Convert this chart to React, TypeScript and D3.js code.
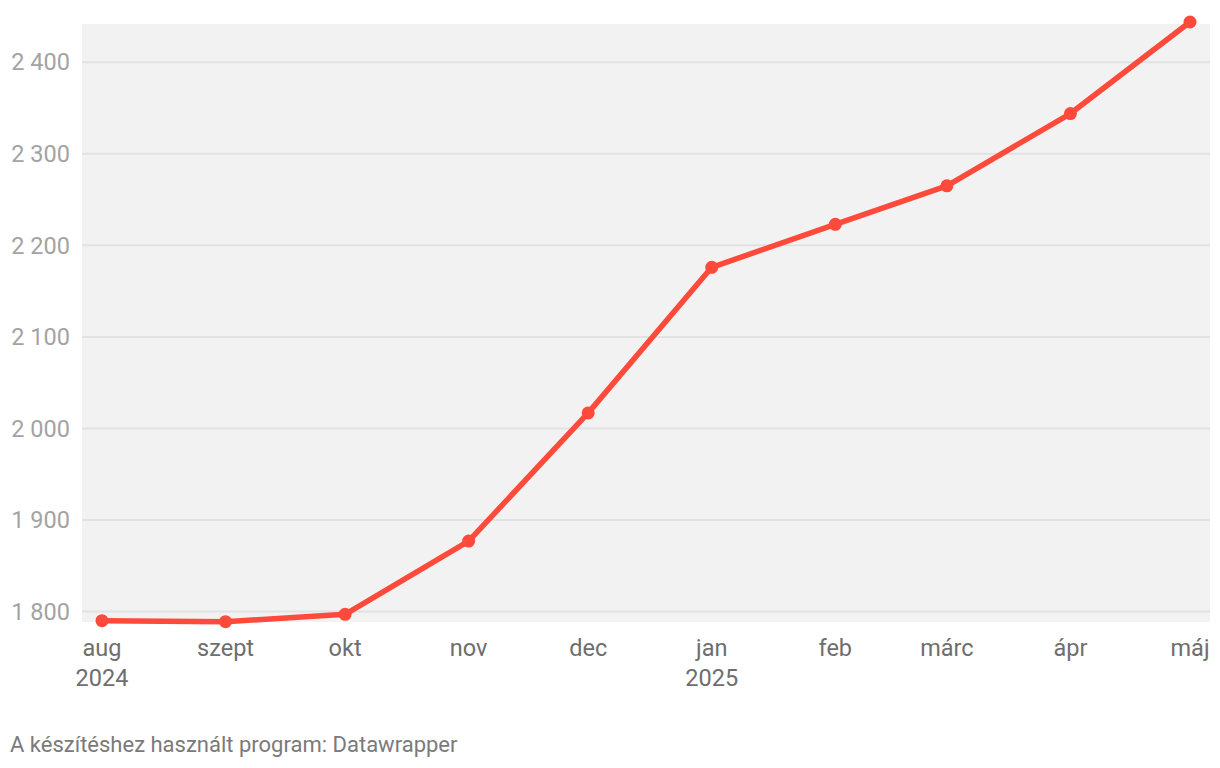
import { useEffect, useRef } from 'react';
import * as d3 from 'd3';

const months = ['2024-08-01', '2024-09-01', '2024-10-01', '2024-11-01', '2024-12-01', '2025-01-01', '2025-02-01', '2025-03-01', '2025-04-01', '2025-05-01'];
const monthLabels = ['aug', 'szept', 'okt', 'nov', 'dec', 'jan', 'feb', 'márc', 'ápr', 'máj'];
const yearLabels = ['2024', '', '', '', '', '2025', '', '', '', ''];
const values = [1790, 1789, 1797, 1877, 2017, 2176, 2223, 2265, 2344, 2444];
const yTicks = [1800, 1900, 2000, 2100, 2200, 2300, 2400];

const W = 1220;
const H = 768;
const FONT = 'Roboto, "Noto Sans", sans-serif';

export default function App() {
  const svgRef = useRef<SVGSVGElement>(null);

  useEffect(() => {
    if (!svgRef.current) return;
    const svg = d3.select(svgRef.current);
    svg.selectAll('*').remove();

    const parse = d3.timeParse('%Y-%m-%d');
    const dates = months.map(m => parse(m) as Date);
    const data = dates.map((d, i) => ({ date: d, value: values[i] }));

    const plot = { left: 82, right: 1210, top: 24, bottom: 622 };

    const x = d3.scaleTime()
      .domain([dates[0], dates[dates.length - 1]])
      .range([102, 1190]);

    const y = d3.scaleLinear()
      .domain([1788.6, 2441.8])
      .range([plot.bottom, plot.top]);

    svg.append('rect')
      .attr('x', plot.left)
      .attr('y', plot.top)
      .attr('width', plot.right - plot.left)
      .attr('height', plot.bottom - plot.top)
      .attr('fill', '#f2f2f2');

    svg.append('g')
      .selectAll('line')
      .data(yTicks)
      .enter()
      .append('line')
      .attr('x1', plot.left)
      .attr('x2', plot.right)
      .attr('y1', d => y(d))
      .attr('y2', d => y(d))
      .attr('stroke', '#e2e2e2')
      .attr('stroke-width', 2);

    const fmt = (v: number) => d3.format(',')(v).replace(/,/g, '\u00A0');

    svg.append('g')
      .selectAll('text')
      .data(yTicks)
      .enter()
      .append('text')
      .attr('x', 70)
      .attr('y', d => y(d))
      .attr('dy', '0.35em')
      .attr('text-anchor', 'end')
      .attr('fill', '#a3a3a3')
      .style('font-family', FONT)
      .style('font-size', '23.5px')
      .text(d => fmt(d));

    const xl = svg.append('g');
    xl.selectAll('text.m')
      .data(data)
      .enter()
      .append('text')
      .attr('class', 'm')
      .attr('x', d => x(d.date))
      .attr('y', 656)
      .attr('text-anchor', 'middle')
      .attr('fill', '#6e6e6e')
      .style('font-family', FONT)
      .style('font-size', '23.5px')
      .text((_, i) => monthLabels[i]);

    xl.selectAll('text.yr')
      .data(data.filter((_, i) => yearLabels[i] !== ''))
      .enter()
      .append('text')
      .attr('class', 'yr')
      .attr('x', d => x(d.date))
      .attr('y', 686)
      .attr('text-anchor', 'middle')
      .attr('fill', '#6e6e6e')
      .style('font-family', FONT)
      .style('font-size', '23.5px')
      .text(d => yearLabels[dates.indexOf(d.date)]);

    const line = d3.line<{ date: Date; value: number }>()
      .x(d => x(d.date))
      .y(d => y(d.value));

    svg.append('path')
      .datum(data)
      .attr('d', line)
      .attr('fill', 'none')
      .attr('stroke', '#fe4a3a')
      .attr('stroke-width', 5.5)
      .attr('stroke-linejoin', 'round');

    svg.append('g')
      .selectAll('circle')
      .data(data)
      .enter()
      .append('circle')
      .attr('cx', d => x(d.date))
      .attr('cy', d => y(d.value))
      .attr('r', 6.5)
      .attr('fill', '#fe4a3a');

    svg.append('text')
      .attr('x', 10)
      .attr('y', 752)
      .attr('fill', '#7a7a7a')
      .style('font-family', FONT)
      .style('font-size', '22px')
      .text('A készítéshez használt program: Datawrapper');
  }, []);

  return (
    <div style={{ position: 'absolute', left: 0, top: 0, width: W, height: H, background: '#fff' }}>
      <svg ref={svgRef} width={W} height={H}></svg>
    </div>
  );
}
